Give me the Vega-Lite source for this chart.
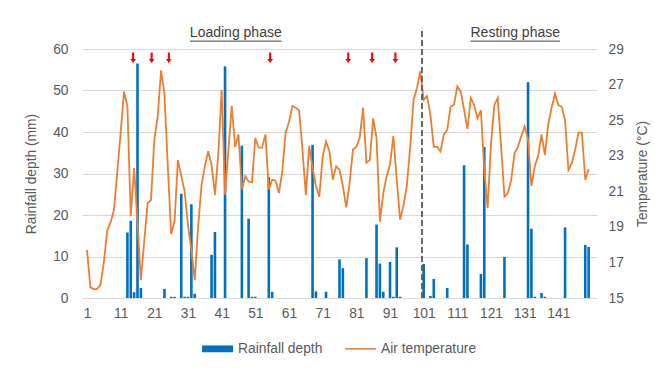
{
 "$schema": "https://vega.github.io/schema/vega-lite/v6.json",
 "width": 515,
 "height": 249,
 "autosize": {"type": "none"},
 "padding": {"left": 82, "top": 49, "right": 58, "bottom": 73},
 "background": "white",
 "config": {
  "view": {"stroke": null},
  "font": "Liberation Sans",
  "axis": {"labelFont": "Liberation Sans", "titleFont": "Liberation Sans", "labelFontSize": 13.8, "titleFontSize": 13.8, "labelColor": "#595959", "titleColor": "#595959", "titleFontWeight": "normal", "ticks": false, "domain": false}
 },
 "datasets": {
  "daily": [
   {"day":1,"rain":0,"temp":17.7},{"day":2,"rain":0,"temp":15.6},{"day":3,"rain":0,"temp":15.5},{"day":4,"rain":0,"temp":15.5},{"day":5,"rain":0,"temp":15.75},
   {"day":6,"rain":0,"temp":17.0},{"day":7,"rain":0,"temp":18.8},{"day":8,"rain":0,"temp":19.25},{"day":9,"rain":0,"temp":19.95},{"day":10,"rain":0,"temp":22.1},
   {"day":11,"rain":0,"temp":24.3},{"day":12,"rain":0,"temp":26.6},{"day":13,"rain":15.8,"temp":25.8},{"day":14,"rain":18.6,"temp":19.6},{"day":15,"rain":1.4,"temp":22.3},
   {"day":16,"rain":56.5,"temp":19.2},{"day":17,"rain":2.4,"temp":16.0},{"day":18,"rain":0,"temp":18.2},{"day":19,"rain":0,"temp":20.35},{"day":20,"rain":0,"temp":20.5},
   {"day":21,"rain":0,"temp":23.9},{"day":22,"rain":0,"temp":25.2},{"day":23,"rain":0,"temp":27.8},{"day":24,"rain":2.2,"temp":26.5},{"day":25,"rain":0,"temp":22.4},
   {"day":26,"rain":0.3,"temp":18.6},{"day":27,"rain":0.3,"temp":19.3},{"day":28,"rain":0,"temp":22.75},{"day":29,"rain":25.1,"temp":21.85},{"day":30,"rain":0.3,"temp":21.0},
   {"day":31,"rain":0.3,"temp":19.1},{"day":32,"rain":22.6,"temp":17.7},{"day":33,"rain":1.0,"temp":16.0},{"day":34,"rain":0,"temp":19.0},{"day":35,"rain":0,"temp":21.3},
   {"day":36,"rain":0,"temp":22.4},{"day":37,"rain":0,"temp":23.25},{"day":38,"rain":10.4,"temp":22.5},{"day":39,"rain":15.9,"temp":20.8},{"day":40,"rain":0,"temp":23.1},
   {"day":41,"rain":0,"temp":26.7},{"day":42,"rain":55.8,"temp":20.8},{"day":43,"rain":0,"temp":23.3},{"day":44,"rain":0,"temp":25.8},{"day":45,"rain":0,"temp":23.5},
   {"day":46,"rain":0,"temp":24.2},{"day":47,"rain":36.7,"temp":21.1},{"day":48,"rain":0,"temp":21.85},{"day":49,"rain":19.1,"temp":21.55},{"day":50,"rain":0.3,"temp":21.5},
   {"day":51,"rain":0.3,"temp":24.0},{"day":52,"rain":0,"temp":23.45},{"day":53,"rain":0,"temp":23.45},{"day":54,"rain":0,"temp":24.2},{"day":55,"rain":29.1,"temp":21.1},
   {"day":56,"rain":1.5,"temp":21.65},{"day":57,"rain":0,"temp":21.6},{"day":58,"rain":0,"temp":20.9},{"day":59,"rain":0,"temp":22.1},{"day":60,"rain":0,"temp":24.3},
   {"day":61,"rain":0,"temp":24.9},{"day":62,"rain":0,"temp":25.8},{"day":63,"rain":0,"temp":25.7},{"day":64,"rain":0,"temp":25.55},{"day":65,"rain":0,"temp":23.35},
   {"day":66,"rain":0,"temp":20.8},{"day":67,"rain":0,"temp":23.55},{"day":68,"rain":36.9,"temp":22.3},{"day":69,"rain":1.6,"temp":21.3},{"day":70,"rain":0,"temp":20.7},
   {"day":71,"rain":0,"temp":22.95},{"day":72,"rain":1.5,"temp":23.8},{"day":73,"rain":0,"temp":23.25},{"day":74,"rain":0,"temp":21.65},{"day":75,"rain":0,"temp":22.4},
   {"day":76,"rain":9.3,"temp":22.2},{"day":77,"rain":7.2,"temp":21.3},{"day":78,"rain":0,"temp":20.1},{"day":79,"rain":0,"temp":21.45},{"day":80,"rain":0,"temp":23.35},
   {"day":81,"rain":0,"temp":23.5},{"day":82,"rain":0,"temp":24.0},{"day":83,"rain":0,"temp":25.7},{"day":84,"rain":9.6,"temp":22.6},{"day":85,"rain":0,"temp":22.75},
   {"day":86,"rain":0,"temp":25.1},{"day":87,"rain":17.7,"temp":24.0},{"day":88,"rain":8.3,"temp":19.3},{"day":89,"rain":1.5,"temp":20.9},{"day":90,"rain":0,"temp":21.85},
   {"day":91,"rain":8.7,"temp":22.5},{"day":92,"rain":0.3,"temp":24.1},{"day":93,"rain":12.2,"temp":21.65},{"day":94,"rain":0.3,"temp":19.4},{"day":95,"rain":0,"temp":20.2},
   {"day":96,"rain":0,"temp":21.3},{"day":97,"rain":0,"temp":23.5},{"day":98,"rain":0,"temp":26.15},{"day":99,"rain":0,"temp":26.8},{"day":100,"rain":0,"temp":27.75},
   {"day":101,"rain":8.2,"temp":26.15},{"day":102,"rain":0,"temp":26.35},{"day":103,"rain":0.5,"temp":25.3},{"day":104,"rain":4.6,"temp":23.5},{"day":105,"rain":0,"temp":23.5},
   {"day":106,"rain":0,"temp":23.25},{"day":107,"rain":0,"temp":24.2},{"day":108,"rain":2.4,"temp":24.45},{"day":109,"rain":0,"temp":25.75},{"day":110,"rain":0,"temp":25.85},
   {"day":111,"rain":0,"temp":26.9},{"day":112,"rain":0,"temp":26.6},{"day":113,"rain":32.0,"temp":25.6},{"day":114,"rain":12.9,"temp":24.5},{"day":115,"rain":0,"temp":26.25},
   {"day":116,"rain":0,"temp":25.85},{"day":117,"rain":0,"temp":25.1},{"day":118,"rain":5.8,"temp":25.55},{"day":119,"rain":36.4,"temp":22.2},{"day":120,"rain":0,"temp":20.05},
   {"day":121,"rain":0,"temp":23.7},{"day":122,"rain":0,"temp":25.85},{"day":123,"rain":0,"temp":26.25},{"day":124,"rain":0,"temp":23.5},{"day":125,"rain":9.9,"temp":20.7},
   {"day":126,"rain":0,"temp":20.9},{"day":127,"rain":0,"temp":21.65},{"day":128,"rain":0,"temp":23.15},{"day":129,"rain":0,"temp":23.5},{"day":130,"rain":0,"temp":24.1},
   {"day":131,"rain":0,"temp":24.65},{"day":132,"rain":52.0,"temp":23.9},{"day":133,"rain":16.7,"temp":21.3},{"day":134,"rain":0.3,"temp":22.4},{"day":135,"rain":0,"temp":23.0},
   {"day":136,"rain":1.2,"temp":24.2},{"day":137,"rain":0.3,"temp":23.05},{"day":138,"rain":0,"temp":24.75},{"day":139,"rain":0,"temp":25.7},{"day":140,"rain":0,"temp":26.5},
   {"day":141,"rain":0,"temp":25.85},{"day":142,"rain":0,"temp":25.75},{"day":143,"rain":17.0,"temp":25.0},{"day":144,"rain":0,"temp":22.2},{"day":145,"rain":0,"temp":22.6},
   {"day":146,"rain":0,"temp":23.35},{"day":147,"rain":0,"temp":24.3},{"day":148,"rain":0,"temp":24.3},{"day":149,"rain":12.8,"temp":21.65},{"day":150,"rain":12.3,"temp":22.25}
  ],
  "arrows": [{"day":14.7},{"day":20.2},{"day":25.3},{"day":55.4},{"day":78.6},{"day":85.7},{"day":92.6}],
  "phases": [
   {"label":"Loading phase","mid":45.2,"start":31.6,"end":58.8},
   {"label":"Resting phase","mid":128.2,"start":114.9,"end":141.5}
  ],
  "boundary": [{"day":100.5}]
 },
 "layer": [
  {
   "data": {"name": "daily"},
   "mark": {"type": "bar", "size": 2.6},
   "encoding": {
    "x": {"field": "day", "type": "quantitative", "scale": {"domain": [1, 151], "nice": false, "zero": false},
     "axis": {"values": [1,11,21,31,41,51,61,71,81,91,101,111,121,131,141], "title": null, "grid": false, "labelPadding": 8, "labelFlush": false, "labelOverlap": false}},
    "y": {"field": "rain", "type": "quantitative", "scale": {"domain": [0, 60], "nice": false},
     "axis": {"values": [0,10,20,30,40,50,60], "title": "Rainfall depth (mm)", "grid": true, "gridColor": "#D9D9D9", "gridWidth": 1, "labelPadding": 14, "titlePadding": 14}},
    "color": {"datum": "Rainfall depth", "type": "nominal",
     "scale": {"domain": ["Rainfall depth", "Air temperature"], "range": ["#0070C0", "#ED7D31"]},
     "legend": {"orient": "none", "legendX": 120, "legendY": 284, "direction": "horizontal", "title": null,
      "symbolType": "M-1,-0.22H1V0.22H-1Z", "symbolSize": 961, "labelFont": "Liberation Sans", "labelFontSize": 13.8, "labelColor": "#595959",
      "labelOffset": 5, "columnPadding": 22, "padding": 0,
      "encode": {"symbols": {"update": {
        "shape": {"signal": "datum.value === 'Air temperature' ? 'M-1,-0.05H1V0.05H-1Z' : 'M-1,-0.22H1V0.22H-1Z'"},
        "fill": {"scale": "color", "field": "value"},
        "stroke": {"value": "transparent"},
        "strokeWidth": {"value": 0},
        "opacity": {"value": 1}}}}}}
   }
  },
  {
   "data": {"name": "daily"},
   "mark": {"type": "line", "strokeWidth": 1.8},
   "encoding": {
    "x": {"field": "day", "type": "quantitative", "scale": {"domain": [1, 151], "nice": false, "zero": false},
     "axis": {"values": [1,11,21,31,41,51,61,71,81,91,101,111,121,131,141], "title": null, "grid": false, "labelPadding": 8, "labelFlush": false, "labelOverlap": false}},
    "y": {"field": "temp", "type": "quantitative", "scale": {"domain": [15, 29], "nice": false, "zero": false},
     "axis": {"orient": "right", "values": [15,17,19,21,23,25,27,29], "title": "Temperature (°C)", "grid": false, "labelPadding": 11, "titlePadding": 12, "titleAngle": 270, "titleBaseline": "top"}},
    "color": {"datum": "Air temperature", "type": "nominal"}
   }
  },
  {
   "layer": [
    {
     "data": {"name": "arrows"},
     "mark": {"type": "point", "shape": "M-0.2,-1H0.2V0.25H0.55L0,1L-0.55,0.25H-0.2Z", "filled": true, "color": "#FF0000", "size": 112, "opacity": 1, "strokeWidth": 0},
     "encoding": {
      "x": {"field": "day", "type": "quantitative", "scale": {"domain": [1, 151], "nice": false, "zero": false},
       "axis": {"values": [1,11,21,31,41,51,61,71,81,91,101,111,121,131,141], "title": null, "grid": false, "labelPadding": 8, "labelFlush": false, "labelOverlap": false}},
      "y": {"datum": 57.9, "type": "quantitative", "scale": {"domain": [0, 60], "nice": false}, "axis": null}
     }
    },
    {
     "data": {"name": "phases"},
     "mark": {"type": "text", "fontSize": 14, "font": "Liberation Sans", "color": "#404040", "baseline": "alphabetic", "align": "center"},
     "encoding": {
      "x": {"field": "mid", "type": "quantitative", "scale": {"domain": [1, 151], "nice": false, "zero": false},
       "axis": {"values": [1,11,21,31,41,51,61,71,81,91,101,111,121,131,141], "title": null, "grid": false, "labelPadding": 8, "labelFlush": false, "labelOverlap": false}},
      "y": {"datum": 62.85, "type": "quantitative", "scale": {"domain": [0, 60], "nice": false}, "axis": null},
      "text": {"field": "label"}
     }
    },
    {
     "data": {"name": "phases"},
     "mark": {"type": "rule", "color": "#404040", "strokeWidth": 1},
     "encoding": {
      "x": {"field": "start", "type": "quantitative", "scale": {"domain": [1, 151], "nice": false, "zero": false},
       "axis": {"values": [1,11,21,31,41,51,61,71,81,91,101,111,121,131,141], "title": null, "grid": false, "labelPadding": 8, "labelFlush": false, "labelOverlap": false}},
      "x2": {"field": "end"},
      "y": {"datum": 61.9, "type": "quantitative", "scale": {"domain": [0, 60], "nice": false}, "axis": null}
     }
    },
    {
     "data": {"name": "boundary"},
     "mark": {"type": "rule", "color": "#595959", "strokeWidth": 1.8, "strokeDash": [6, 3]},
     "encoding": {
      "x": {"field": "day", "type": "quantitative", "scale": {"domain": [1, 151], "nice": false, "zero": false},
       "axis": {"values": [1,11,21,31,41,51,61,71,81,91,101,111,121,131,141], "title": null, "grid": false, "labelPadding": 8, "labelFlush": false, "labelOverlap": false}},
      "y": {"datum": 0, "type": "quantitative", "scale": {"domain": [0, 60], "nice": false}, "axis": null},
      "y2": {"datum": 65.1}
     }
    }
   ]
  }
 ],
 "resolve": {"scale": {"y": "independent"}}
}
